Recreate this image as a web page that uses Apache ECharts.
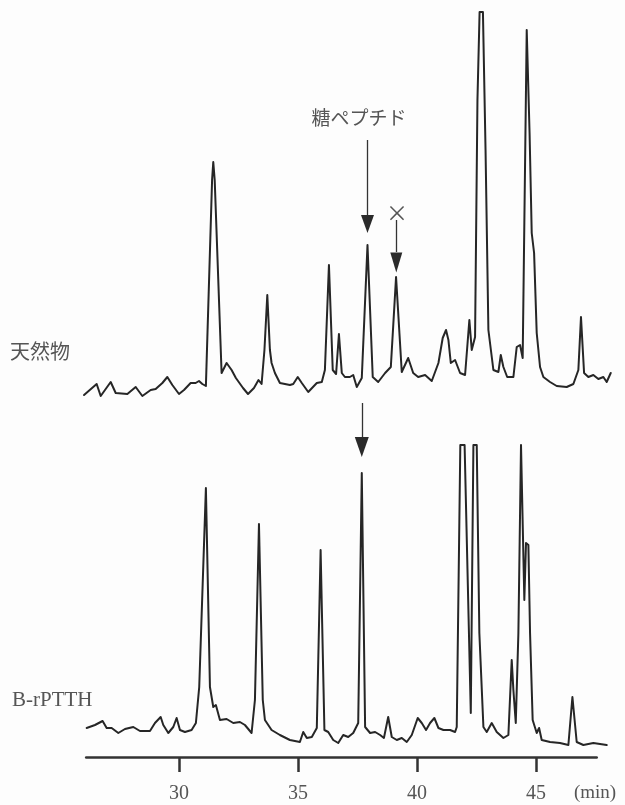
<!DOCTYPE html>
<html>
<head>
<meta charset="utf-8">
<script src="https://cdn.jsdelivr.net/npm/echarts@6/dist/echarts.min.js"></script>
<style>
  html, body { margin: 0; padding: 0; background: #fdfdfd; }
  #chart { width: 625px; height: 805px; }
</style>
</head>
<body>
<div id="chart"></div>
<script>
// Retention times (min) and detector response for the natural product trace
const nativeTime = [
  26.01, 26.54, 26.71, 27.13, 27.34, 27.83, 28.18, 28.46, 28.81, 29.02,
  29.30, 29.51, 29.72, 30.00, 30.21, 30.49, 30.70, 30.84, 30.98, 31.13,
  31.39, 31.44, 31.50, 31.79, 32.00, 32.21, 32.39, 32.69, 32.90, 33.15,
  33.34, 33.47, 33.59, 33.71, 33.82, 33.89, 34.03, 34.24, 34.66, 34.80,
  34.99, 35.16, 35.43, 35.79, 36.00, 36.13, 36.30, 36.46, 36.60, 36.72,
  36.84, 36.97, 37.18, 37.32, 37.47, 37.68, 37.92, 38.14, 38.37, 38.66,
  38.90, 39.12, 39.36, 39.63, 39.84, 40.05, 40.34, 40.62, 40.90, 41.08,
  41.22, 41.32, 41.42, 41.60, 41.81, 42.02, 42.20, 42.30, 42.44, 42.54,
  42.63, 42.77, 42.88, 43.00, 43.21, 43.42, 43.52, 43.63, 43.79, 44.05,
  44.19, 44.33, 44.44, 44.61, 44.68, 44.73, 44.82, 44.92, 45.03, 45.17,
  45.31, 45.59, 45.87, 46.29, 46.57, 46.78, 46.89, 47.02, 47.20, 47.41,
  47.62, 47.83, 47.97, 48.14
];
const nativeSignal = [
  5, 16, 4, 18, 7, 6, 13, 4, 10, 11,
  17, 23, 15, 6, 10, 17, 17, 19, 16, 14,
  220, 238, 220, 27, 37, 30, 22, 12, 6, 12,
  20, 16, 50, 105, 50, 37, 27, 17, 15, 16,
  23, 17, 8, 17, 18, 30, 135, 30, 26, 66,
  27, 23, 23, 25, 13, 22, 155, 23, 18, 27,
  33, 123, 28, 42, 27, 23, 25, 19, 37, 62,
  70, 60, 37, 40, 27, 25, 80, 50, 63, 300,
  388, 388, 250, 70, 30, 28, 45, 33, 23, 23,
  53, 55, 42, 370, 370, 267, 167, 147, 67, 33,
  23, 18, 14, 13, 16, 30, 83, 27, 23, 25,
  21, 23, 18, 27
];

// Retention times (min) and detector response for B-rPTTH
const recombTime = [
  26.12, 26.47, 26.79, 26.96, 27.17, 27.45, 27.73, 28.08, 28.36, 28.78,
  28.99, 29.23, 29.34, 29.55, 29.76, 29.90, 30.04, 30.25, 30.53, 30.71,
  30.85, 31.13, 31.30, 31.44, 31.55, 31.72, 32.00, 32.28, 32.56, 32.77,
  33.05, 33.19, 33.36, 33.52, 33.61, 33.89, 34.24, 34.66, 35.08, 35.22,
  35.37, 35.58, 35.79, 35.95, 36.11, 36.27, 36.48, 36.69, 36.90, 37.11,
  37.32, 37.53, 37.68, 37.82, 38.03, 38.24, 38.45, 38.61, 38.79, 38.94,
  39.15, 39.36, 39.57, 39.78, 40.03, 40.20, 40.38, 40.55, 40.73, 40.90,
  41.11, 41.39, 41.60, 41.67, 41.82, 42.00, 42.26, 42.37, 42.51, 42.62,
  42.79, 42.93, 43.14, 43.35, 43.63, 43.84, 43.98, 44.05, 44.15, 44.26,
  44.37, 44.44, 44.51, 44.58, 44.68, 44.75, 44.86, 45.03, 45.13, 45.24,
  45.59, 46.01, 46.36, 46.53, 46.71, 46.99, 47.41, 47.97
];
const recombSignal = [
  29, 32, 36, 29, 29, 24, 28, 30, 26, 26,
  34, 40, 32, 24, 30, 39, 27, 25, 27, 34,
  70, 269, 70, 50, 52, 37, 38, 34, 35, 32,
  24, 57, 233, 57, 37, 27, 22, 17, 15, 25,
  19, 20, 29, 207, 27, 25, 17, 14, 22, 20,
  24, 34, 284, 30, 24, 25, 22, 19, 40, 20,
  17, 19, 15, 22, 39, 34, 27, 34, 39, 29,
  27, 27, 25, 30, 312, 312, 44, 312, 312, 124,
  30, 25, 34, 25, 19, 22, 97, 67, 34, 124,
  312, 312, 157, 214, 212, 124, 37, 24, 29, 17,
  15, 14, 12, 60, 15, 12, 14, 12
];

// Time axis: drawn extent and ticks (min)
const axisStart = 26.1;
const axisEnd = 47.55;
const timeTicks = [30, 35, 40, 45];

// Arrow annotations: [time, shaft top, shaft bottom, head centre]
const nativeArrows = [
  [37.92, 260, 185, 176],
  [39.13, 180, 148, 137.5]
];
const recombArrows = [
  [37.68, 354, 320, 310]
];

const pairs = (t, v) => t.map((x, i) => [x, v[i]]);

const TRACE = '#262626';
const INK = '#555555';
const SERIF = '"Liberation Serif", "DejaVu Serif", serif';
const CJK = '"Noto Sans CJK JP", "Noto Sans", sans-serif';

// Shared time scale: 30 min sits at x = 179 px, 23.8 px per minute
const PX0 = 179, PPM = 23.8;
const traceMin = 26.0, traceMax = 48.3;
const sideLeft = (t) => PX0 - (30 - t) * PPM;
const sideRight = (t) => 625 - (PX0 + (t - 30) * PPM);

function arrowLines(list) {
  return list.map(a => [{ coord: [a[0], a[1]] }, { coord: [a[0], a[2]] }]);
}

const chart = echarts.init(document.getElementById('chart'), null, { renderer: 'canvas' });

const traceGrid = { left: sideLeft(traceMin), right: sideRight(traceMax) };
const axisGrid = { left: sideLeft(axisStart), right: sideRight(axisEnd) };

chart.setOption({
  backgroundColor: '#fdfdfd',
  animation: false,
  grid: [
    Object.assign({ top: 0, bottom: 405 }, traceGrid),
    Object.assign({ top: 400, bottom: 48 }, traceGrid),
    Object.assign({ top: 400, bottom: 48 }, axisGrid)
  ],
  xAxis: [
    { type: 'value', gridIndex: 0, min: traceMin, max: traceMax, show: false },
    { type: 'value', gridIndex: 1, min: traceMin, max: traceMax, show: false },
    {
      type: 'value', gridIndex: 2, min: axisStart, max: axisEnd,
      splitLine: { show: false },
      axisLine: { show: true, onZero: false, lineStyle: { color: '#333', width: 2.5 } },
      axisTick: {
        show: true, inside: false, length: 15, customValues: timeTicks,
        lineStyle: { color: '#333', width: 2.5 }
      },
      axisLabel: {
        show: true, customValues: timeTicks, margin: 27,
        color: INK, fontFamily: SERIF, fontSize: 20
      }
    }
  ],
  yAxis: [
    { type: 'value', gridIndex: 0, min: 0, max: 400, show: false },
    { type: 'value', gridIndex: 1, min: 0, max: 357, show: false },
    { type: 'value', gridIndex: 2, min: 0, max: 357, show: false }
  ],
  series: [
    {
      name: '天然物',
      type: 'line',
      xAxisIndex: 0, yAxisIndex: 0,
      data: pairs(nativeTime, nativeSignal),
      showSymbol: false,
      lineStyle: { color: TRACE, width: 2, join: 'round', cap: 'round' },
      markLine: {
        silent: true, symbol: ['none', 'none'],
        label: { show: false },
        lineStyle: { color: '#333', width: 1.3, type: 'solid' },
        data: arrowLines(nativeArrows)
      },
      markPoint: {
        silent: true, symbol: 'triangle', symbolRotate: 180,
        label: { show: false },
        itemStyle: { color: '#2a2a2a' },
        data: [
          { coord: [nativeArrows[0][0], nativeArrows[0][3]], symbolSize: [13, 18] },
          { coord: [nativeArrows[1][0], nativeArrows[1][3]], symbolSize: [12, 20] }
        ]
      }
    },
    {
      name: 'B-rPTTH',
      type: 'line',
      xAxisIndex: 1, yAxisIndex: 1,
      data: pairs(recombTime, recombSignal),
      showSymbol: false,
      lineStyle: { color: TRACE, width: 2, join: 'round', cap: 'round' },
      markLine: {
        silent: true, symbol: ['none', 'none'],
        label: { show: false },
        lineStyle: { color: '#333', width: 1.3, type: 'solid' },
        data: arrowLines(recombArrows)
      },
      markPoint: {
        silent: true, symbol: 'triangle', symbolRotate: 180,
        label: { show: false },
        itemStyle: { color: '#2a2a2a' },
        data: recombArrows.map(a => ({ coord: [a[0], a[3]], symbolSize: [14, 20] }))
      }
    }
  ],
  graphic: [
    {
      type: 'text', x: 359, y: 118,
      style: { text: '糖ペプチド', fill: INK, font: '19px ' + CJK, textAlign: 'center', textVerticalAlign: 'middle' }
    },
    {
      type: 'text', x: 397, y: 213,
      style: { text: '×', fill: INK, font: '22px ' + CJK, textAlign: 'center', textVerticalAlign: 'middle' }
    },
    {
      type: 'text', x: 10, y: 351,
      style: { text: '天然物', fill: INK, font: '20px ' + CJK, textAlign: 'left', textVerticalAlign: 'middle' }
    },
    {
      type: 'text', x: 12, y: 700,
      style: { text: 'B-rPTTH', fill: INK, font: '21px ' + SERIF, textAlign: 'left', textVerticalAlign: 'middle' }
    },
    {
      type: 'text', x: 595, y: 793,
      style: { text: '(min)', fill: INK, font: '19px ' + SERIF, textAlign: 'center', textVerticalAlign: 'middle' }
    }
  ]
});
</script>
</body>
</html>
